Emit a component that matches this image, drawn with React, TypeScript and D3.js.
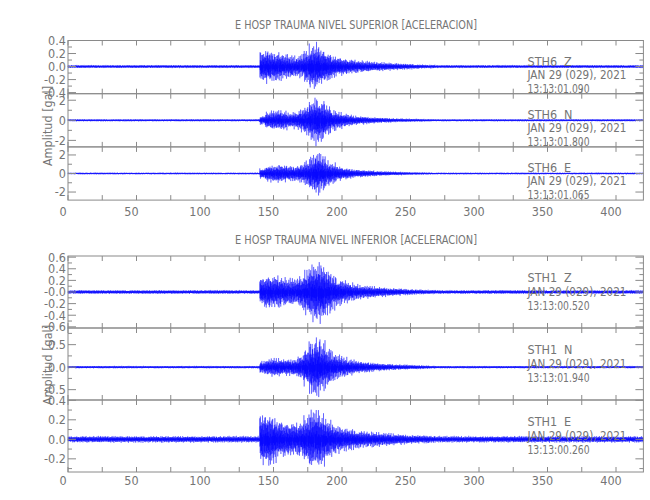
import React from "react";
import * as d3 from "d3";

// ---------- data ----------
const X_LABELS = [0, 50, 100, 150, 200, 250, 300, 350, 400];
const X_MINOR = [0, 25, 50, 75, 100, 125, 150, 175, 200, 225, 250, 275, 300, 325, 350, 375, 400];
const T_MAX = 420;
const SAMPLE_DT = 0.1;

// envelope bins (peak amplitude) of the event: bin i covers [EVENT_START + 4i, EVENT_START + 4i + 4)
const EVENT_START = 140;
const BIN_WIDTH = 4;

const TOP_Z_ENV = [0.27, 0.28, 0.24, 0.25, 0.21, 0.19, 0.17, 0.19, 0.27, 0.37, 0.38, 0.3, 0.24, 0.19, 0.16, 0.14, 0.12, 0.11, 0.1, 0.09, 0.08, 0.075, 0.07, 0.065, 0.06, 0.055, 0.05, 0.045, 0.04, 0.035, 0.03, 0.03];
const TOP_N_ENV = [0.5, 0.9, 1.0, 1.1, 1.0, 0.8, 0.9, 1.2, 1.6, 2.2, 2.6, 2.3, 1.6, 1.1, 0.9, 0.75, 0.6, 0.5, 0.45, 0.4, 0.35, 0.32, 0.28, 0.25, 0.22, 0.2, 0.18, 0.17, 0.16, 0.15, 0.14, 0.13];
const TOP_E_ENV = [0.6, 0.9, 1.0, 1.1, 1.0, 0.9, 0.9, 1.1, 1.4, 2.0, 2.5, 2.1, 1.5, 1.2, 0.9, 0.7, 0.6, 0.5, 0.45, 0.4, 0.35, 0.3, 0.27, 0.24, 0.22, 0.2, 0.18, 0.16, 0.15, 0.14, 0.13, 0.12];
const BOT_Z_ENV = [0.28, 0.32, 0.3, 0.3, 0.27, 0.25, 0.25, 0.3, 0.4, 0.52, 0.58, 0.55, 0.42, 0.32, 0.26, 0.22, 0.18, 0.15, 0.13, 0.12, 0.11, 0.1, 0.09, 0.08, 0.075, 0.07, 0.06, 0.055, 0.05, 0.045, 0.04, 0.04];
const BOT_N_ENV = [0.15, 0.2, 0.22, 0.22, 0.2, 0.2, 0.22, 0.3, 0.45, 0.65, 0.75, 0.6, 0.45, 0.35, 0.28, 0.24, 0.2, 0.17, 0.15, 0.13, 0.12, 0.1, 0.09, 0.08, 0.07, 0.065, 0.06, 0.055, 0.05, 0.045, 0.04, 0.035];
const BOT_E_ENV = [0.3, 0.3, 0.27, 0.22, 0.2, 0.19, 0.18, 0.2, 0.26, 0.32, 0.33, 0.28, 0.22, 0.18, 0.15, 0.13, 0.12, 0.11, 0.1, 0.09, 0.085, 0.08, 0.075, 0.07, 0.065, 0.06, 0.055, 0.05, 0.05, 0.045, 0.045, 0.04];

// background noise amplitude per channel
const BACKGROUND = [0.025, 0.12, 0.11, 0.035, 0.03, 0.036];

// oscillation shape (fixed wiggle pattern of the trace)
const WAVE_A = [0.35, -0.62, 0.88, -0.41, 0.15, -0.93, 0.57, -0.28, 0.74, -0.66, 0.21, -0.49, 1.0, -0.37, 0.52, -0.81, 0.3, -0.18, 0.69, -1.0, 0.44, -0.55, 0.12, -0.72, 0.83, -0.26, 0.61, -0.47, 0.95, -0.33, 0.25, -0.86, 0.48, -0.6, 0.18, -0.4, 0.77, -0.9, 0.39, -0.22, 0.65, -0.58, 0.1, -0.76, 0.92, -0.31, 0.55, -0.69, 0.28, -0.97, 0.71, -0.15, 0.46];
const WAVE_B = [0.9, 0.4, 1.0, 0.6, 0.2, 0.8, 0.5, 1.0, 0.3, 0.7, 0.95, 0.45, 0.1, 0.85, 0.6, 0.35, 1.0, 0.55, 0.25, 0.75, 0.4, 0.9, 0.65, 0.15, 0.8, 0.5, 1.0, 0.3, 0.7];

const Y_DOMAINS: [number, number][] = [[-0.417, 0.4], [-2.65, 2.65], [-2.87, 2.87], [-0.62, 0.62], [-0.73, 0.87], [-0.335, 0.403]];
const Y_LABEL_VALUES = [[-0.4, -0.2, 0, 0.2, 0.4], [-2, 0, 2], [-2, 0, 2], [-0.6, -0.4, -0.2, 0, 0.2, 0.4, 0.6], [-0.5, 0, 0.5], [-0.2, 0, 0.2, 0.4]];
const Y_LABEL_TEXT = [["-0.4", "-0.2", "0.0", "0.2", "0.4"], ["-2", "0", "2"], ["-2", "0", "2"], ["-0.6", "-0.4", "-0.2", "-0.0", "0.2", "0.4", "0.6"], ["-0.5", "0.0", "0.5"], ["-0.2", "0.0", "0.2", "0.4"]];
const Y_MINOR_STEP = [0.1, 1, 1, 0.1, 0.25, 0.1];

const STATIONS = ["STH6", "STH6", "STH6", "STH1", "STH1", "STH1"];
const COMPONENTS = ["Z", "N", "E", "Z", "N", "E"];
const DATE_TEXT = "JAN 29 (029), 2021";
const START_TIMES = ["13:13:01.090", "13:13:01.800", "13:13:01.065", "13:13:00.520", "13:13:01.940", "13:13:00.260"];
const ENVELOPES = [TOP_Z_ENV, TOP_N_ENV, TOP_E_ENV, BOT_Z_ENV, BOT_N_ENV, BOT_E_ENV];
const TITLES = ["E HOSP TRAUMA NIVEL SUPERIOR [ACELERACION]", "E HOSP TRAUMA NIVEL INFERIOR [ACELERACION]"];
const Y_TITLE = "Amplitud [gal]";

// ---------- layout ----------
const W = 650, H = 500;
const X0 = 68, X1 = 643.4;
const GROUPS = [
  { top: 40.5, ph: 53.2, labelY: 216, infoOff: 25, infoGap: 13.5, yTitleY: 126 },
  { top: 256, ph: 72, labelY: 484.5, infoOff: 26, infoGap: 14, yTitleY: 365 },
];
const FONT = "'Liberation Sans Narrow','DejaVu Sans Condensed','Liberation Sans',sans-serif";
const AXIS = "#8a8a8a";
const TXT = "#757575";
const BLUE = "#0000ff";

const xScale = d3.scaleLinear().domain([0, T_MAX]).range([X0, X1]);

function envelopeAt(ch: number, t: number) {
  const i = Math.floor((t - EVENT_START) / BIN_WIDTH);
  const env = ENVELOPES[ch];
  if (i < 0 || i >= env.length) return BACKGROUND[ch];
  return Math.max(env[i], BACKGROUND[ch]);
}

function traceSamples(ch: number) {
  const n = Math.round(T_MAX / SAMPLE_DT);
  const pts: [number, number][] = [];
  const off = ch * 11;
  for (let i = 0; i <= n; i++) {
    const t = i * SAMPLE_DT;
    const a = WAVE_A[(i + off) % WAVE_A.length];
    const b = WAVE_B[(i + off * 3) % WAVE_B.length];
    pts.push([t, envelopeAt(ch, t) * a * (0.55 + 0.45 * b)]);
  }
  return pts;
}

function ticksBetween(domain: [number, number], step: number) {
  const out: number[] = [];
  const start = Math.ceil(domain[0] / step - 1e-9);
  const end = Math.floor(domain[1] / step + 1e-9);
  for (let k = start; k <= end; k++) out.push(+(k * step).toFixed(6));
  return out;
}

function Panel({ ch, top, ph, showInfo, infoOff, infoGap }: any) {
  const y = d3.scaleLinear().domain(Y_DOMAINS[ch]).range([top + ph, top]);
  const line = d3.line<[number, number]>().x((d) => xScale(d[0])).y((d) => y(d[1]));
  const d = line(traceSamples(ch)) || "";
  const majors = Y_LABEL_VALUES[ch];
  const minors = ticksBetween(Y_DOMAINS[ch], Y_MINOR_STEP[ch]).filter(
    (v) => !majors.some((m) => Math.abs(m - v) < 1e-6)
  );
  const bottom = top + ph;
  return (
    <g>
      <path d={d} fill="none" stroke={BLUE} strokeWidth={0.5} strokeOpacity={0.75} />
      <rect x={X0} y={top} width={X1 - X0} height={ph} fill="none" stroke={AXIS} strokeWidth={1} />
      {X_MINOR.map((t) => (
        <g key={"xt" + t}>
          <line x1={xScale(t)} x2={xScale(t)} y1={top} y2={top + 5} stroke={AXIS} />
          <line x1={xScale(t)} x2={xScale(t)} y1={bottom} y2={bottom - 5} stroke={AXIS} />
        </g>
      ))}
      {majors.map((v) => (
        <g key={"ym" + v}>
          <line x1={X0} x2={X0 + 8} y1={y(v)} y2={y(v)} stroke={AXIS} />
          <line x1={X1} x2={X1 - 8} y1={y(v)} y2={y(v)} stroke={AXIS} />
        </g>
      ))}
      {minors.map((v) => (
        <g key={"yn" + v}>
          <line x1={X0} x2={X0 + 4} y1={y(v)} y2={y(v)} stroke={AXIS} />
          <line x1={X1} x2={X1 - 4} y1={y(v)} y2={y(v)} stroke={AXIS} />
        </g>
      ))}
      {majors.map((v, i) => (
        <text key={"yl" + v} x={X0 - 2} y={y(v)} dy="0.35em" textAnchor="end" fontSize={12.5} fill={TXT} fontFamily={FONT}>
          {Y_LABEL_TEXT[ch][i]}
        </text>
      ))}
      {showInfo && (
        <g fontFamily={FONT} fontSize={12.5} fill={TXT}>
          <text x={527.5} y={top + infoOff}>{STATIONS[ch]}</text>
          <text x={564} y={top + infoOff}>{COMPONENTS[ch]}</text>
          <text x={527.5} y={top + infoOff + infoGap} textLength={99} lengthAdjust="spacingAndGlyphs">{DATE_TEXT}</text>
          <text x={527.5} y={top + infoOff + 2 * infoGap} textLength={62} lengthAdjust="spacingAndGlyphs">{START_TIMES[ch]}</text>
        </g>
      )}
    </g>
  );
}

export default function App() {
  return (
    <svg width={W} height={H} style={{ display: "block", position: "absolute", left: 0, top: 0, background: "#fff" }}>
      {GROUPS.map((g, gi) => (
        <g key={gi}>
          <text x={356} y={g.top - 12} textAnchor="middle" fontSize={12.5} fill={TXT} fontFamily={FONT} textLength={242} lengthAdjust="spacingAndGlyphs">
            {TITLES[gi]}
          </text>
          {[0, 1, 2].map((k) => (
            <Panel key={k} ch={gi * 3 + k} top={g.top + k * g.ph} ph={g.ph} showInfo={true} infoOff={g.infoOff} infoGap={g.infoGap} />
          ))}
          {X_LABELS.map((t) => (
            <text key={t} x={xScale(t) - 5} y={g.labelY} textAnchor="middle" fontSize={12.5} fill={TXT} fontFamily={FONT}>
              {t}
            </text>
          ))}
          <text transform={`translate(52,${g.yTitleY}) rotate(-90)`} textAnchor="middle" fontSize={12.5} fill={TXT} fontFamily={FONT}>
            {Y_TITLE}
          </text>
        </g>
      ))}
    </svg>
  );
}
